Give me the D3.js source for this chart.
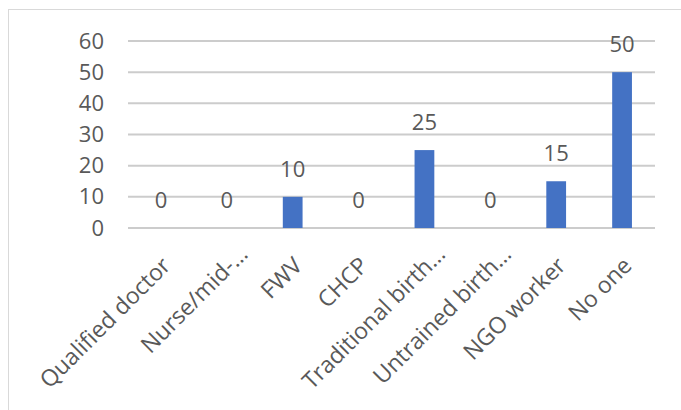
<!DOCTYPE html>
<html>
<head>
<meta charset="utf-8">
<script src="https://cdn.jsdelivr.net/npm/d3@7"></script>
<style>
  html, body { margin: 0; padding: 0; background: #fff; }
  svg { display: block; }
  text { font-family: "Open Sans", "Noto Sans", sans-serif; fill: #595959; }
</style>
</head>
<body>
<svg id="chart" width="681" height="410"></svg>
<script>
const categories = ["Qualified doctor", "Nurse/mid-…", "FWV", "CHCP", "Traditional birth…", "Untrained birth…", "NGO worker", "No one"];
const values = [0, 0, 10, 0, 25, 0, 15, 50];
const yTicks = [0, 10, 20, 30, 40, 50, 60];

const svg = d3.select("#chart");
const W = 681, H = 410;
const plot = { left: 128, right: 655, top: 41, bottom: 228 };

// chart area border
svg.append("rect")
  .attr("x", 8.5).attr("y", 9.5)
  .attr("width", W + 10).attr("height", H + 10)
  .attr("fill", "#fff").attr("stroke", "#d9d9d9").attr("stroke-width", 1);

const x = d3.scaleBand()
  .domain(categories)
  .range([plot.left, plot.right])
  .paddingInner(0.7)
  .paddingOuter(0.35);

const y = d3.scaleLinear()
  .domain([0, 60])
  .range([plot.bottom, plot.top]);

// gridlines
svg.append("g")
  .selectAll("line")
  .data(yTicks)
  .join("line")
  .attr("x1", plot.left).attr("x2", plot.right)
  .attr("y1", d => y(d)).attr("y2", d => y(d))
  .attr("stroke", "#cccccc")
  .attr("stroke-width", 2);

// y axis labels
const yAxis = svg.append("g")
  .attr("transform", `translate(${plot.left},0)`)
  .call(d3.axisLeft(y).tickValues(yTicks).tickSize(0).tickPadding(24));
yAxis.select(".domain").remove();
yAxis.selectAll("text")
  .style("font-family", "'Open Sans', sans-serif")
  .style("font-size", "22px")
  .attr("fill", "#595959");

// bars
svg.append("g")
  .selectAll("rect")
  .data(values)
  .join("rect")
  .attr("x", (d, i) => x(categories[i]))
  .attr("width", x.bandwidth())
  .attr("y", d => y(d))
  .attr("height", d => y(0) - y(d))
  .attr("fill", "#4472c4");

// data labels
svg.append("g")
  .selectAll("text")
  .data(values)
  .join("text")
  .attr("x", (d, i) => x(categories[i]) + x.bandwidth() / 2)
  .attr("y", d => y(d) - 20)
  .attr("text-anchor", "middle")
  .style("font-size", "22px")
  .text(d => d);

// x axis labels
const xAxis = svg.append("g")
  .attr("transform", `translate(0,${plot.bottom})`)
  .call(d3.axisBottom(x).tickSize(0));
xAxis.select(".domain").remove();
xAxis.selectAll("text")
  .attr("x", 0).attr("y", 0).attr("dy", 0)
  .attr("dx", d => d.endsWith("…") ? 16 : 0)
  .attr("text-anchor", "end")
  .attr("transform", "translate(11,39) rotate(-45)")
  .style("font-family", "'Open Sans', sans-serif")
  .style("font-size", "23px")
  .attr("fill", "#595959");
</script>
</body>
</html>
